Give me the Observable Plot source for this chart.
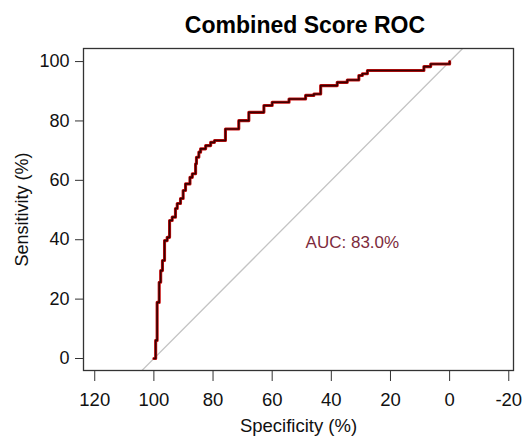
<!DOCTYPE html>
<html>
<head>
<meta charset="utf-8">
<script src="https://cdn.jsdelivr.net/npm/d3@7"></script>
<script src="https://cdn.jsdelivr.net/npm/@observablehq/plot@0.6"></script>
<style>
  body { margin: 0; background: #fff; font-family: "Liberation Sans", Arial, sans-serif; }
  #title { height: 40px; box-sizing: border-box; padding-left: 82px; padding-top: 12px; text-align: center; font-weight: bold; font-size: 23px; line-height: 26px; color: #000; }
</style>
</head>
<body>
<div id="title">Combined Score ROC</div>
<div id="chart"></div>
<script>
// ROC curve points (start of each horizontal step)
const specificity = [100, 99.4, 98.9, 98.2, 97.7, 97.1, 96.4, 95.5, 94.7, 93.8, 92.7, 92.1, 91.0, 90.1, 89.3, 87.8, 87.0, 85.9, 85.6, 84.8, 84.2, 82.5, 80.8, 79.5, 75.8, 71.3, 67.9, 62.8, 60.0, 54.3, 48.7, 45.9, 43.6, 38.0, 34.6, 30.7, 29.5, 27.8, 8.7, 6.4, 0];
const sensitivity = [0, 6.1, 18.9, 25.7, 29.6, 33.0, 39.7, 40.8, 46.5, 47.6, 50.5, 52.2, 53.9, 56.6, 58.8, 61.0, 62.2, 65.6, 67.8, 69.5, 70.6, 71.7, 72.8, 73.4, 77.3, 80.1, 82.9, 85.2, 86.3, 87.4, 88.6, 89.1, 91.9, 93.0, 93.8, 95.3, 95.9, 97.0, 98.3, 99.2, 100];
const xTicks = [120, 100, 80, 60, 40, 20, 0, -20];
const yTicks = [0, 20, 40, 60, 80, 100];
const xDomain = [123.8, -21.6];
const yDomain = [-4.04, 104.4];
const aucLabel = "AUC: 83.0%";
const aucPos = {x: 48.7, y: 39.1};

const roc = specificity.map((s, i) => ({spec: s, sens: sensitivity[i]}));
// chance diagonal: sensitivity = 100 - specificity, across the whole y domain
const diagonal = yDomain.map(y => ({spec: 100 - y, sens: y}));

const chart = Plot.plot({
  width: 528,
  height: 400,
  marginTop: 8,
  marginBottom: 70,
  marginLeft: 83,
  marginRight: 15,
  style: {fontFamily: "'Liberation Sans', Arial, sans-serif", fontSize: "18px", color: "#111", background: "#fff"},
  x: {domain: xDomain},
  y: {domain: yDomain},
  marks: [
    Plot.line(diagonal, {x: "spec", y: "sens", stroke: "#c4c4c4", strokeWidth: 1.3, clip: true}),
    Plot.line(roc, {x: "spec", y: "sens", curve: "step-after", stroke: "#c81010", strokeWidth: 3.1}),
    Plot.line(roc, {x: "spec", y: "sens", curve: "step-after", stroke: "#3a0000", strokeWidth: 1.6}),
    Plot.text([aucPos], {x: "x", y: "y", text: () => aucLabel, textAnchor: "start", fill: "#7d2b3c", fontSize: 17}),
    Plot.frame({stroke: "#333", strokeWidth: 1.3}),
    Plot.axisX(xTicks, {ticks: xTicks, tickSize: 11, tickPadding: 11, tickFormat: d => String(d), label: "Specificity (%)", labelAnchor: "center", labelArrow: "none", labelOffset: 61, stroke: "#333", fontSize: 18.5}),
    Plot.axisY(yTicks, {ticks: yTicks, tickSize: 8, tickPadding: 6, tickFormat: d => String(d), label: "Sensitivity (%)", labelAnchor: "center", labelArrow: "none", labelOffset: 68, stroke: "#333", fontSize: 18})
  ]
});
document.getElementById("chart").appendChild(chart);
</script>
</body>
</html>
